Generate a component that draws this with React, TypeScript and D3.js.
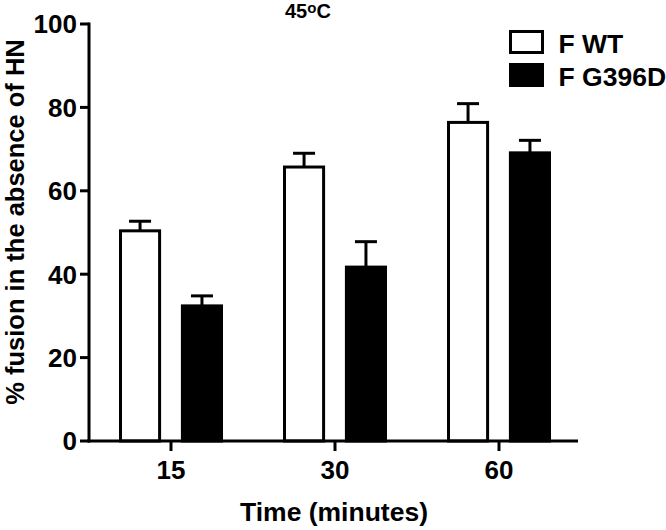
import React from "react";
import * as d3 from "d3";

const times: string[] = ["15", "30", "60"];
const series: string[] = ["F WT", "F G396D"];
const wtValues: number[] = [50.4, 65.7, 76.4];
const wtErrors: number[] = [2.3, 3.3, 4.5];
const mutValues: number[] = [32.4, 41.7, 69.1];
const mutErrors: number[] = [2.4, 6.1, 3.0];
const yTicks: number[] = [0, 20, 40, 60, 80, 100];

const width = 666;
const height = 530;
const font = "'Liberation Sans', Arial, sans-serif";

const App: React.FC = () => {
  const x0 = d3.scaleBand<string>().domain(times).range([89, 581]).padding(0);
  const x1 = d3
    .scaleBand<string>()
    .domain(series)
    .range([-52, 52])
    .paddingInner(0.32);
  const y = d3.scaleLinear().domain([0, 100]).range([441, 24]);

  const rows = times.map((t, i) => ({
    t,
    bars: [
      { s: series[0], v: wtValues[i], e: wtErrors[i], fill: "#fff" },
      { s: series[1], v: mutValues[i], e: mutErrors[i], fill: "#000" },
    ],
  }));

  const sw = 3;

  return (
    <svg
      width={width}
      height={height}
      style={{ position: "absolute", left: 0, top: 0, background: "#fff" }}
      fontFamily={font}
      fontWeight="bold"
    >
      {/* bars + error bars */}
      {rows.map((r) => {
        const cx = (x0(r.t) as number) + x0.bandwidth() / 2;
        return (
          <g key={r.t}>
            {r.bars.map((b) => {
              const bx = cx + (x1(b.s) as number);
              const bw = x1.bandwidth();
              const mid = bx + bw / 2;
              return (
                <g key={b.s}>
                  <line
                    x1={mid}
                    x2={mid}
                    y1={y(b.v)}
                    y2={y(b.v + b.e)}
                    stroke="#000"
                    strokeWidth={sw}
                  />
                  <line
                    x1={mid - 11}
                    x2={mid + 11}
                    y1={y(b.v + b.e)}
                    y2={y(b.v + b.e)}
                    stroke="#000"
                    strokeWidth={sw}
                  />
                  <rect
                    x={bx + sw / 2}
                    y={y(b.v)}
                    width={bw - sw}
                    height={y(0) - y(b.v)}
                    fill={b.fill}
                    stroke="#000"
                    strokeWidth={sw}
                  />
                </g>
              );
            })}
          </g>
        );
      })}

      {/* y axis */}
      <line x1={89} x2={89} y1={y(100) - 1.5} y2={y(0) + 1.5} stroke="#000" strokeWidth={sw} />
      {yTicks.map((t) => (
        <g key={t}>
          <line x1={80} x2={89} y1={y(t)} y2={y(t)} stroke="#000" strokeWidth={sw} />
          <text x={77} y={y(t)} dy="0.36em" textAnchor="end" fontSize={26}>
            {t}
          </text>
        </g>
      ))}

      {/* x axis */}
      <line x1={87.5} x2={578} y1={y(0)} y2={y(0)} stroke="#000" strokeWidth={sw} />
      {times.map((t) => {
        const cx = (x0(t) as number) + x0.bandwidth() / 2;
        return (
          <g key={t}>
            <line x1={cx} x2={cx} y1={y(0)} y2={y(0) + 10} stroke="#000" strokeWidth={sw} />
            <text x={cx} y={479} textAnchor="middle" fontSize={26}>
              {t}
            </text>
          </g>
        );
      })}

      {/* axis titles */}
      <text x={334} y={521} textAnchor="middle" fontSize={26.5}>
        Time (minutes)
      </text>
      <text
        transform="translate(24,222) rotate(-90)"
        textAnchor="middle"
        fontSize={25.5}
      >
        % fusion in the absence of HN
      </text>

      {/* title */}
      <text x={285} y={18} fontSize={20}>
        45
        <tspan fontSize={15} dy={-5}>
          o
        </tspan>
        <tspan dy={5}>C</tspan>
      </text>

      {/* legend */}
      {series.map((s, i) => (
        <g key={s} transform={`translate(510.5,${31.5 + i * 33})`}>
          <rect
            width={32}
            height={21}
            fill={i === 0 ? "#fff" : "#000"}
            stroke="#000"
            strokeWidth={sw}
          />
          <text x={48} y={21} fontSize={26.5}>
            {s}
          </text>
        </g>
      ))}
    </svg>
  );
};

export default App;
